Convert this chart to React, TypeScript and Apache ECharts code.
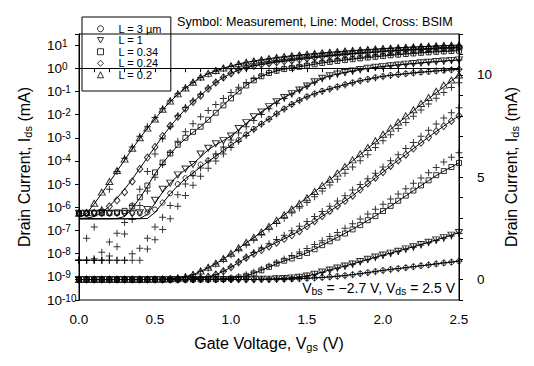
import React, { useEffect, useRef } from 'react';
import * as echarts from 'echarts';

const FONT = '"Liberation Sans", Arial, sans-serif';

// Gate voltage steps (V)
const VGS = [0, 0.05, 0.1, 0.15, 0.2, 0.25, 0.3, 0.35, 0.4, 0.45, 0.5, 0.55, 0.6, 0.65, 0.7, 0.75, 0.8, 0.85, 0.9, 0.95, 1, 1.05, 1.1, 1.15, 1.2, 1.25, 1.3, 1.35, 1.4, 1.45, 1.5, 1.55, 1.6, 1.65, 1.7, 1.75, 1.8, 1.85, 1.9, 1.95, 2, 2.05, 2.1, 2.15, 2.2, 2.25, 2.3, 2.35, 2.4, 2.45, 2.5];

// Measured drain current (mA)
const MEAS_L3 = [5.5e-7, 5.4e-7, 5.6e-7, 5.5e-7, 5.4e-7, 5.5e-7, 5.6e-7, 5.5e-7, 5.5e-7, 6e-7, 8e-7, 1.6e-6, 4e-6, 1e-5, 1.8e-5, 2.9e-5, 7e-5, 1.05e-4, 1.6e-4, 3e-4, 5e-4, 8e-4, 1.4e-3, 2.4e-3, 4e-3, 6.5e-3, 0.011, 0.018, 0.028, 0.042, 0.06, 0.08, 0.105, 0.13, 0.16, 0.2, 0.24, 0.29, 0.34, 0.4, 0.45, 0.5, 0.54, 0.58, 0.63, 0.67, 0.71, 0.76, 0.81, 0.85, 0.9];
const MEAS_L1 = [5.5e-7, 5.6e-7, 5.5e-7, 5.4e-7, 5.5e-7, 5.6e-7, 5.5e-7, 5.5e-7, 5.8e-7, 8e-7, 2e-6, 6e-6, 1.1e-5, 2.5e-5, 4.5e-5, 7e-5, 2e-4, 3.5e-4, 5.5e-4, 7.5e-4, 1.2e-3, 2.5e-3, 4.5e-3, 8e-3, 0.013, 0.022, 0.036, 0.055, 0.08, 0.115, 0.17, 0.26, 0.37, 0.47, 0.56, 0.66, 0.76, 0.88, 0.99, 1.1, 1.2, 1.29, 1.38, 1.5, 1.6, 1.71, 1.82, 1.94, 2.05, 2.17, 2.3];
const MEAS_L034 = [5.5e-7, 5.5e-7, 5.5e-7, 5.6e-7, 5.7e-7, 6e-7, 7e-7, 1.1e-6, 2.7e-6, 8.7e-6, 3.2e-5, 8.5e-5, 2.1e-4, 5e-4, 1e-3, 1.8e-3, 3e-3, 6e-3, 0.012, 0.025, 0.05, 0.1, 0.18, 0.3, 0.45, 0.62, 0.78, 0.92, 1.03, 1.15, 1.3, 1.48, 1.68, 1.87, 2.05, 2.25, 2.45, 2.66, 2.9, 3.1, 3.35, 3.6, 3.85, 4.1, 4.35, 4.6, 4.85, 5.1, 5.3, 5.5, 5.7];
const MEAS_L024 = [5.5e-7, 5.5e-7, 5.8e-7, 7e-7, 1.1e-6, 2e-6, 4.5e-6, 1.3e-5, 4.5e-5, 1.4e-4, 4e-4, 1.2e-3, 3.3e-3, 8e-3, 0.018, 0.035, 0.065, 0.13, 0.24, 0.4, 0.6, 0.84, 1.07, 1.26, 1.44, 1.62, 1.8, 1.98, 2.16, 2.36, 2.6, 2.85, 3.1, 3.35, 3.6, 3.85, 4.1, 4.4, 4.7, 4.98, 5.25, 5.55, 5.82, 6.1, 6.4, 6.68, 6.95, 7.25, 7.5, 7.75, 8.0];
const MEAS_L02 = [5.5e-7, 6e-7, 1.5e-6, 4.5e-6, 1.3e-5, 3.9e-5, 1.2e-4, 3.5e-4, 1e-3, 2.6e-3, 6.5e-3, 0.017, 0.038, 0.078, 0.14, 0.25, 0.42, 0.6, 0.8, 1.03, 1.28, 1.55, 1.82, 2.06, 2.32, 2.6, 2.9, 3.17, 3.45, 3.72, 4.0, 4.3, 4.6, 4.9, 5.2, 5.52, 5.85, 6.15, 6.45, 6.78, 7.1, 7.4, 7.7, 8.0, 8.3, 8.6, 8.9, 9.2, 9.5, 9.75, 10.0];

// Model (lines), mA
const MODEL_L3 = [3.2e-7, 3.2e-7, 3.2e-7, 3.2e-7, 3.2e-7, 3.2e-7, 3.2e-7, 3.2e-7, 3.2e-7, 3.3e-7, 6e-7, 1.5e-6, 3.8e-6, 8.5e-6, 1.7e-5, 3e-5, 5.5e-5, 9.5e-5, 1.6e-4, 2.8e-4, 4.8e-4, 8e-4, 1.4e-3, 2.4e-3, 4e-3, 6.5e-3, 0.011, 0.018, 0.028, 0.042, 0.06, 0.08, 0.105, 0.13, 0.16, 0.2, 0.24, 0.29, 0.34, 0.4, 0.45, 0.5, 0.54, 0.58, 0.63, 0.67, 0.71, 0.76, 0.81, 0.85, 0.9];
const MODEL_L1 = [3.2e-7, 3.2e-7, 3.2e-7, 3.2e-7, 3.2e-7, 3.2e-7, 3.2e-7, 3.2e-7, 3.3e-7, 5e-7, 1.5e-6, 4.5e-6, 1.1e-5, 2.3e-5, 4.2e-5, 7.5e-5, 1.5e-4, 3e-4, 5e-4, 7.5e-4, 1.2e-3, 2.2e-3, 4.2e-3, 7.5e-3, 0.013, 0.022, 0.036, 0.055, 0.08, 0.115, 0.17, 0.25, 0.36, 0.47, 0.56, 0.66, 0.76, 0.87, 0.98, 1.09, 1.19, 1.29, 1.39, 1.5, 1.6, 1.71, 1.82, 1.93, 2.05, 2.17, 2.3];
const MODEL_L034 = [3.2e-7, 3.2e-7, 3.2e-7, 3.2e-7, 3.2e-7, 3.3e-7, 4e-7, 9e-7, 2.5e-6, 8e-6, 2.8e-5, 8e-5, 2e-4, 4.6e-4, 9e-4, 1.7e-3, 3e-3, 6e-3, 0.012, 0.026, 0.052, 0.1, 0.18, 0.3, 0.45, 0.61, 0.77, 0.91, 1.03, 1.16, 1.31, 1.49, 1.68, 1.87, 2.06, 2.26, 2.46, 2.67, 2.89, 3.11, 3.35, 3.59, 3.84, 4.09, 4.34, 4.59, 4.84, 5.08, 5.3, 5.5, 5.7];
const MODEL_L024 = [3.3e-7, 3.4e-7, 4e-7, 6e-7, 1.1e-6, 2.5e-6, 6e-6, 1.6e-5, 4.8e-5, 1.4e-4, 4e-4, 1.15e-3, 3.1e-3, 7.5e-3, 0.017, 0.035, 0.068, 0.13, 0.24, 0.4, 0.6, 0.83, 1.06, 1.26, 1.45, 1.63, 1.81, 1.99, 2.18, 2.38, 2.6, 2.84, 3.09, 3.34, 3.59, 3.84, 4.1, 4.38, 4.67, 4.96, 5.25, 5.54, 5.83, 6.11, 6.4, 6.68, 6.96, 7.24, 7.5, 7.76, 8.0];
const MODEL_L02 = [3.6e-7, 5.5e-7, 1.4e-6, 4e-6, 1.2e-5, 3.6e-5, 1.1e-4, 3.3e-4, 9.5e-4, 2.6e-3, 6.5e-3, 0.016, 0.036, 0.075, 0.14, 0.24, 0.4, 0.58, 0.78, 1.0, 1.25, 1.52, 1.79, 2.05, 2.32, 2.6, 2.88, 3.16, 3.44, 3.72, 4.0, 4.29, 4.58, 4.88, 5.18, 5.49, 5.8, 6.1, 6.41, 6.72, 7.03, 7.34, 7.65, 7.95, 8.25, 8.55, 8.84, 9.13, 9.42, 9.71, 10.0];

// BSIM (crosses), mA
const BSIM_L3 = [5.2e-9, 5.2e-9, 5.2e-9, 5.2e-9, 5.2e-9, 5.2e-9, 5.2e-9, 5.2e-9, 5.2e-9, 1.6e-8, 4e-8, 1.1e-7, 3.2e-7, 1.1e-6, 3.2e-6, 9e-6, 2.2e-5, 4.8e-5, 1e-4, 2e-4, 3.8e-4, 7e-4, 1.25e-3, 2.2e-3, 3.8e-3, 6.3e-3, 0.0105, 0.017, 0.027, 0.04, 0.057, 0.077, 0.1, 0.125, 0.155, 0.19, 0.23, 0.28, 0.33, 0.38, 0.43, 0.48, 0.53, 0.58, 0.63, 0.68, 0.72, 0.77, 0.82, 0.86, 0.9];
const BSIM_L1 = [5.2e-9, 5.2e-9, 5.2e-9, 5.2e-9, 5.2e-9, 5.2e-9, 5.2e-9, 1e-8, 1.7e-8, 4.6e-8, 1.4e-7, 3.7e-7, 1.2e-6, 3.5e-6, 1e-5, 2.3e-5, 5e-5, 1e-4, 2e-4, 4e-4, 8e-4, 1.6e-3, 3e-3, 5.5e-3, 0.01, 0.018, 0.031, 0.05, 0.078, 0.115, 0.17, 0.25, 0.35, 0.45, 0.55, 0.65, 0.75, 0.86, 0.97, 1.07, 1.17, 1.27, 1.37, 1.48, 1.58, 1.69, 1.8, 1.91, 2.02, 2.13, 2.25];
const BSIM_L034 = [5.2e-9, 5.2e-9, 5.2e-9, 5.2e-9, 8e-9, 2e-8, 7e-8, 3e-7, 1.2e-6, 5e-6, 2e-5, 7e-5, 2.3e-4, 7e-4, 1.8e-3, 4e-3, 8e-3, 0.015, 0.027, 0.05, 0.09, 0.15, 0.24, 0.36, 0.5, 0.66, 0.83, 1.0, 1.17, 1.34, 1.52, 1.71, 1.9, 2.1, 2.3, 2.51, 2.73, 2.96, 3.2, 3.44, 3.68, 3.93, 4.18, 4.44, 4.7, 4.96, 5.22, 5.48, 5.74, 5.98, 6.2];
const BSIM_L024 = [5.2e-9, 5.2e-9, 6e-9, 1.15e-8, 3.2e-8, 7.6e-8, 2.2e-7, 1.2e-6, 6e-6, 3.5e-5, 2e-4, 9e-4, 3e-3, 9e-3, 0.02, 0.04, 0.075, 0.14, 0.25, 0.41, 0.62, 0.86, 1.1, 1.32, 1.54, 1.75, 1.96, 2.17, 2.38, 2.6, 2.84, 3.08, 3.33, 3.58, 3.84, 4.1, 4.37, 4.64, 4.92, 5.2, 5.5, 5.8, 6.1, 6.4, 6.7, 7.0, 7.3, 7.6, 7.9, 8.15, 8.4];
const BSIM_L02 = [5.2e-9, 4.6e-8, 1.4e-7, 8e-7, 6e-6, 3.5e-5, 1.3e-4, 4e-4, 1.15e-3, 3e-3, 7.5e-3, 0.018, 0.04, 0.08, 0.145, 0.25, 0.4, 0.57, 0.76, 0.97, 1.2, 1.45, 1.7, 1.95, 2.2, 2.47, 2.74, 3.0, 3.25, 3.5, 3.76, 4.05, 4.33, 4.62, 4.9, 5.2, 5.5, 5.8, 6.1, 6.45, 6.78, 7.08, 7.38, 7.68, 7.98, 8.28, 8.58, 8.86, 9.14, 9.38, 9.62];

const NAMES = ['L = 3 µm', 'L = 1', 'L = 0.34', 'L = 0.24', 'L = 0.2'];
const X_TICKS = ['0.0', '0.5', '1.0', '1.5', '2.0', '2.5'];
const RIGHT_LABELS = [0, 5, 10];

const DOWN_TRI = 'path://M0,0L10,0L5,9Z';
const CROSS = 'path://M3,0H4V3H7V4H4V7H3V4H0V3H3Z';

const GROUPS = [
  { name: NAMES[0], meas: MEAS_L3, model: MODEL_L3, bsim: BSIM_L3, symbol: 'circle', size: 5 as any },
  { name: NAMES[1], meas: MEAS_L1, model: MODEL_L1, bsim: BSIM_L1, symbol: DOWN_TRI, size: [7, 6] as any },
  { name: NAMES[2], meas: MEAS_L034, model: MODEL_L034, bsim: BSIM_L034, symbol: 'rect', size: 5 as any },
  { name: NAMES[3], meas: MEAS_L024, model: MODEL_L024, bsim: BSIM_L024, symbol: 'diamond', size: [6, 7] as any },
  { name: NAMES[4], meas: MEAS_L02, model: MODEL_L02, bsim: BSIM_L02, symbol: 'triangle', size: [7, 6] as any },
];

export default function App() {
  const ref = useRef<HTMLDivElement>(null);
  useEffect(() => {
    document.body.style.margin = '0';
    const chart = echarts.init(ref.current!, null, { renderer: 'svg' });
    const series: any[] = [];
    const logPts = (arr: number[]) => VGS.map((v, i) => [v, Math.log10(arr[i])]);
    const linPts = (arr: number[]) => VGS.map((v, i) => [v, arr[i]]);

    GROUPS.forEach((g) => {
      [0, 1].forEach((ax) => {
        series.push({
          type: 'line', name: g.name + ' model ' + ax, yAxisIndex: ax,
          data: ax === 0 ? logPts(g.model) : linPts(g.model),
          showSymbol: false, symbol: 'none', silent: true, z: 2,
          lineStyle: { color: '#000', width: 1 },
        });
      });
    });
    GROUPS.forEach((g) => {
      [0, 1].forEach((ax) => {
        series.push({
          type: 'scatter', name: g.name + ' BSIM ' + ax, yAxisIndex: ax,
          data: ax === 0 ? logPts(g.bsim) : linPts(g.bsim),
          symbol: CROSS, symbolSize: 7, silent: true, z: 3,
          itemStyle: { color: '#000', borderWidth: 0 },
        });
      });
    });
    GROUPS.forEach((g) => {
      [0, 1].forEach((ax) => {
        series.push({
          type: 'scatter', name: g.name, yAxisIndex: ax,
          data: ax === 0 ? logPts(g.meas) : linPts(g.meas),
          symbol: g.symbol, symbolSize: g.size, silent: true, z: 4,
          itemStyle: { color: 'rgba(0,0,0,0)', borderColor: '#000', borderWidth: 1 },
        });
      });
    });

    const sub = { fontSize: 11, lineHeight: 4, verticalAlign: 'bottom', fontFamily: FONT, color: '#000' };

    chart.setOption({
      animation: false,
      backgroundColor: '#fff',
      grid: { left: 79, right: 75, top: 34, bottom: 66, show: true, borderColor: '#000', borderWidth: 1, containLabel: false },
      legend: {
        data: NAMES, left: 82, top: 17, orient: 'vertical', selectedMode: false,
        itemWidth: 6, itemHeight: 6, itemGap: 0, padding: [6, 9, 10.5, 15],
        borderColor: '#000', borderWidth: 1,
        itemStyle: { borderWidth: 1, borderColor: '#000', color: 'rgba(0,0,0,0)' },
        textStyle: { fontSize: 11, fontFamily: FONT, color: '#000', lineHeight: 11.5, padding: [0, 0, 0, 10] },
      },
      xAxis: {
        type: 'value', min: 0, max: 2.5, interval: 0.5,
        axisLine: { lineStyle: { color: '#000', width: 1 } },
        axisTick: { length: 4, lineStyle: { color: '#000' } },
        minorTick: { show: true, splitNumber: 5, length: 4, lineStyle: { color: '#000' } },
        splitLine: { show: false },
        axisLabel: { formatter: (v: number) => X_TICKS[Math.round(v / 0.5)] ?? '', fontSize: 13.5, color: '#000', margin: 12, fontFamily: FONT },
        name: 'Gate Voltage, V{sub|gs} (V)', nameLocation: 'middle', nameGap: 34,
        nameTextStyle: { fontSize: 16, color: '#000', fontFamily: FONT, lineHeight: 18, rich: { sub } },
      },
      yAxis: [
        {
          type: 'value', min: -10, max: Math.log10(30), interval: 1, position: 'left',
          axisLine: { show: true, lineStyle: { color: '#000', width: 1 } },
          axisTick: { show: true, length: 4, lineStyle: { color: '#000' } },
          splitLine: { show: false },
          axisLabel: {
            formatter: (v: number) => (Math.abs(v - Math.round(v)) < 1e-6 ? `10{sup|${Math.round(v)}}` : ''),
            align: 'left', margin: 32, fontSize: 13.5, color: '#000', fontFamily: FONT,
            rich: { sup: { fontSize: 10, lineHeight: 10, verticalAlign: 'top', fontFamily: FONT, color: '#000' } },
          },
          name: 'Drain Current, I{sub|ds} (mA)', nameLocation: 'middle', nameRotate: 90, nameGap: 46,
          nameTextStyle: { fontSize: 16, color: '#000', fontFamily: FONT, lineHeight: 18, rich: { sub } },
        },
        {
          type: 'value', min: -1, max: 12, interval: 1, position: 'right',
          axisLine: { show: true, lineStyle: { color: '#000', width: 1 } },
          axisTick: { show: true, length: 4, lineStyle: { color: '#000' } },
          splitLine: { show: false },
          axisLabel: {
            formatter: (v: number) => (RIGHT_LABELS.includes(v) ? String(v) : ''),
            margin: 18, fontSize: 13.5, color: '#000', fontFamily: FONT,
          },
          name: 'Drain Current, I{sub|ds} (mA)', nameLocation: 'middle', nameRotate: 90, nameGap: 27,
          nameTextStyle: { fontSize: 16, color: '#000', fontFamily: FONT, lineHeight: 18, rich: { sub } },
        },
      ],
      graphic: [
        {
          type: 'text', x: 177, y: 22, silent: true,
          style: { text: 'Symbol: Measurement, Line: Model, Cross: BSIM', fontSize: 12.6, fontFamily: FONT, fill: '#000', verticalAlign: 'middle' },
        },
        {
          type: 'text', x: 455, y: 288, silent: true,
          style: {
            text: 'V{s|bs} = −2.7 V, V{s|ds} = 2.5 V', fontSize: 14, fontFamily: FONT, fill: '#000',
            align: 'right', verticalAlign: 'middle', lineHeight: 16,
            rich: { s: { fontSize: 10.5, lineHeight: 4, verticalAlign: 'bottom', fontFamily: FONT, fill: '#000' } },
          },
        },
      ],
      series,
    });
    return () => chart.dispose();
  }, []);
  return <div ref={ref} style={{ position: 'absolute', left: 0, top: 0, width: 534, height: 366 }} />;
}
